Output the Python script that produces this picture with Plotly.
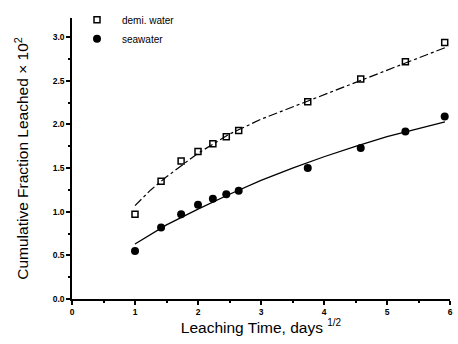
import plotly.graph_objects as go

# measured data (x = sqrt(days))
demi_x = [1.0, 1.414, 1.732, 2.0, 2.236, 2.449, 2.646, 3.742, 4.583, 5.292, 5.916]
demi_y = [0.97, 1.35, 1.58, 1.69, 1.78, 1.86, 1.93, 2.26, 2.52, 2.72, 2.94]
sea_x = [1.0, 1.414, 1.732, 2.0, 2.236, 2.449, 2.646, 3.742, 4.583, 5.292, 5.916]
sea_y = [0.55, 0.82, 0.97, 1.08, 1.15, 1.20, 1.24, 1.50, 1.73, 1.92, 2.09]

# fitted curves
demi_fit_x = [1.0, 1.25, 1.5, 1.75, 2.0, 2.5, 3.0, 3.5, 4.0, 4.5, 5.0, 5.5, 5.92]
demi_fit_y = [1.07, 1.25, 1.40, 1.54, 1.67, 1.89, 2.06, 2.20, 2.34, 2.48, 2.62, 2.76, 2.88]
sea_fit_x = [1.0, 1.5, 2.0, 2.5, 3.0, 3.5, 4.0, 4.5, 5.0, 5.5, 5.92]
sea_fit_y = [0.63, 0.85, 1.03, 1.20, 1.36, 1.50, 1.63, 1.75, 1.86, 1.95, 2.03]

x_ticks = [0, 1, 2, 3, 4, 5, 6]
y_ticks = [0.0, 0.5, 1.0, 1.5, 2.0, 2.5, 3.0]

fig = go.Figure()
fig.add_trace(go.Scatter(x=demi_fit_x, y=demi_fit_y, mode="lines",
                         line=dict(color="black", width=1.2, dash="dashdot"),
                         showlegend=False, hoverinfo="skip"))
fig.add_trace(go.Scatter(x=sea_fit_x, y=sea_fit_y, mode="lines",
                         line=dict(color="black", width=1.3),
                         showlegend=False, hoverinfo="skip"))
fig.add_trace(go.Scatter(x=demi_x, y=demi_y, mode="markers", name="demi. water",
                         marker=dict(symbol="square-open", size=6, color="black",
                                     line=dict(width=1.5, color="black"))))
fig.add_trace(go.Scatter(x=sea_x, y=sea_y, mode="markers", name="seawater",
                         marker=dict(symbol="circle", size=8, color="black")))

font_fam = "Liberation Sans, Arial, sans-serif"
fig.update_layout(
    width=458, height=344,
    margin=dict(l=72, r=5, t=12, b=45),
    paper_bgcolor="white", plot_bgcolor="white",
    font=dict(family=font_fam, color="black"),
    legend=dict(x=0.0, y=1.045, xanchor="left", yanchor="top",
                bgcolor="rgba(0,0,0,0)", font=dict(size=10),
                itemwidth=40, tracegroupgap=0),
    xaxis=dict(range=[0, 6], tickvals=x_ticks,
               ticktext=["<b>%d</b>" % v for v in x_ticks],
               showgrid=False, zeroline=False, showline=True, linecolor="black",
               linewidth=1.5, ticks="outside", ticklen=4, tickwidth=1.5,
               tickcolor="black", tickfont=dict(size=8.5),
               minor=dict(dtick=0.5, ticks="outside", ticklen=2, tickcolor="black"),
               title=dict(text="Leaching Time, days <sup><span style='font-size:10px'>1/2</span></sup>",
                          font=dict(size=15.5), standoff=6)),
    yaxis=dict(range=[0, 3.22], tickvals=y_ticks,
               ticktext=["<b>%.1f</b>" % v for v in y_ticks],
               showgrid=False, zeroline=False, showline=True, linecolor="black",
               linewidth=1.5, ticks="outside", ticklen=4, tickwidth=1.5,
               tickcolor="black", tickfont=dict(size=8.5),
               minor=dict(dtick=0.25, ticks="outside", ticklen=2, tickcolor="black"),
               title=dict(text="Cumulative Fraction Leached × 10<sup>2</sup>",
                          font=dict(size=15.5), standoff=20)),
)

fig.write_html("out.html")
